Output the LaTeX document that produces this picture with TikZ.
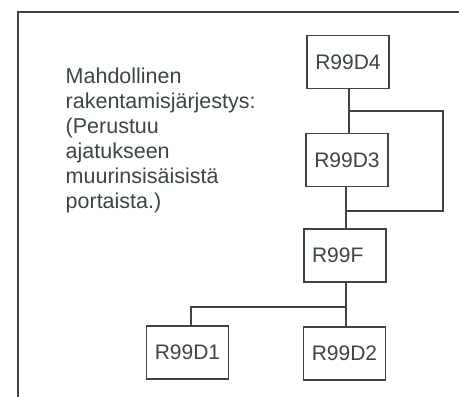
\documentclass[tikz,border=0pt]{standalone}
\usepackage{fontspec}
\setmainfont{Liberation Sans}
\definecolor{ink}{HTML}{3A4644}
\begin{document}
\begin{tikzpicture}[x=1pt,y=-1pt,
  line width=1.4pt, draw=ink,
  blk/.style={draw=ink, line width=1.4pt, minimum width=82pt, minimum height=53pt, inner sep=0pt, font=\fontsize{21}{25}\selectfont, text=ink}]
\useasboundingbox (0,0) rectangle (459,397);
% partial outer frame
\draw[ink] (18,397) -- (18,12) -- (470,12);
\node[anchor=north west, inner sep=0pt, align=left, text=ink,
  font=\fontsize{21.5}{25}\selectfont] (txt) at (65,67.5)
  {Mahdollinen\\rakentamisjärjestys:\\(Perustuu\\ajatukseen\\muurinsisäisistä\\portaista.)};
\node[blk] (d4) at (348,62) {R99D4};
\node[blk] (d3) at (347,160) {R99D3};
\node[blk, text width=66pt, align=left, inner xsep=8pt, minimum width=82pt] (f) at (345,255.5) {R99F};
\node[blk] (d1) at (187.5,352.5) {R99D1};
\node[blk] (d2) at (344.5,353.5) {R99D2};
\coordinate (j1) at (349,111);
\coordinate (r1) at (443,111);
\coordinate (r2) at (443,211);
\coordinate (j2) at (346,211);
\coordinate (j3) at (346,307);
\coordinate (l3) at (191,307);
\draw[ink] (d4.south -| j1) -- (j1) -- (j1 |- d3.north);
\draw[ink] (j1) -- (r1) -- (r2) -- (j2);
\draw[ink] (d3.south -| j2) -- (j2) -- (j2 |- f.north);
\draw[ink] (f.south -| j3) -- (j3) -- (j3 |- d2.north);
\draw[ink] (j3) -- (l3) -- (l3 |- d1.north);
\end{tikzpicture}
\end{document}
